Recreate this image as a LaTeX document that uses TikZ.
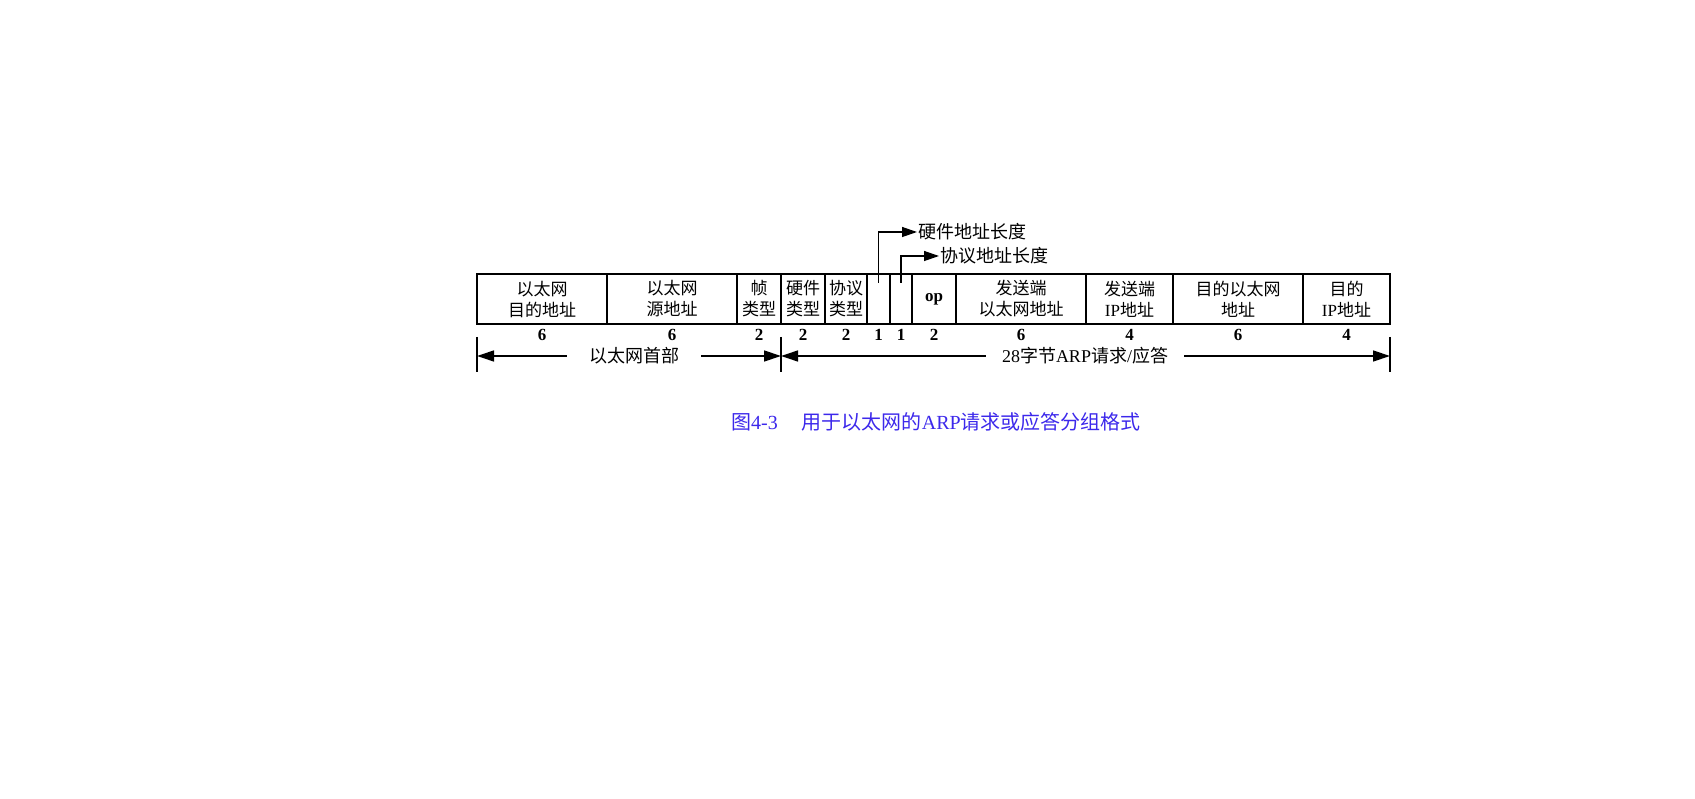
\documentclass[tikz,border=0pt]{standalone}
\usepackage{fontspec}
\setmainfont{Liberation Serif}
\newfontfamily\cjk{Noto Sans CJK SC}
\usetikzlibrary{arrows.meta}
\definecolor{capblue}{RGB}{60,40,235}
\begin{document}
\begin{tikzpicture}[x=1pt, y=-1pt,
        field/.style = {draw, line width=1.4pt, minimum height=50pt, inner sep=0pt, align=center, font=\cjk\fontsize{17}{21}\selectfont},
        num/.style = {font=\bfseries\fontsize{17}{17}\selectfont, inner sep=1pt},
        len/.style = {font=\cjk\fontsize{18}{18}\selectfont, anchor=west, inner sep=1pt},
        span/.style = {font=\fontsize{18}{18}\selectfont, inner ysep=1pt},
        tick/.style = {line width=1.3pt},
        dim/.style = {line width=1.3pt, -{Triangle[length=17pt,width=11pt]}},
        thin tip/.style = {-{Triangle[length=15pt,width=10pt]}}
    ]
    \useasboundingbox (0,0) rectangle (1695,799);
    % fields of the frame, byte count below each
    \foreach \l/\r/\txt/\n [count=\i] in {477/607/{以太网\\目的地址}/6, 607/737/{以太网\\源地址}/6,
        737/781/{帧\\类型}/2, 781/825/{硬件\\类型}/2, 825/867/{协议\\类型}/2, 867/890/{}/1, 890/912/{}/1,
        912/956/{\rmfamily\bfseries op}/2, 956/1086/{发送端\\以太网地址}/6, 1086/1173/{发送端\\{\rmfamily IP}地址}/4,
        1173/1303/{目的以太网\\地址}/6, 1303/1390/{目的\\{\rmfamily IP}地址}/4}
    {
        \node[field, minimum width={(\r-\l)*1pt}] (f\i) at ({(\l+\r)/2},299) {\txt};
        \node[num] (n\i) at ({(\l+\r)/2},335) {\n};
    }
    % length fields
    \node[len] (hwlen) at (917,232) {硬件地址长度};
    \node[len] (prlen) at (939,256) {协议地址长度};
    \coordinate (hw) at (878.5,283);
    \coordinate (pr) at (901,283);
    \draw[dim, thin tip] (hw) |- (hwlen.west);
    \draw[dim, thin tip] (pr) |- (prlen.west);
    % spans
    \coordinate (s0) at (477,356);
    \coordinate (s1) at (781,356);
    \coordinate (s2) at (1390,356);
    \foreach \s in {s0,s1,s2}
        \draw[tick] ([yshift=19pt]\s) -- ([yshift=-16pt]\s);
    \node[span, inner xsep=22pt] (hdr) at (634,356) {\cjk 以太网首部};
    \node[span, inner xsep=16pt] (arp) at (1085,356) {28{\cjk 字节}ARP{\cjk 请求}/{\cjk 应答}};
    \draw[dim] (hdr) -- (s0);
    \draw[dim] (hdr) -- (s1);
    \draw[dim] (arp) -- (s1);
    \draw[dim] (arp) -- (s2);
    % caption
    \node[font=\fontsize{20}{20}\selectfont, text=capblue] (cap) at (936,422)
        {{\cjk 图}4-3\hspace{1.2em}{\cjk 用于以太网的}ARP{\cjk 请求或应答分组格式}};
\end{tikzpicture}
\end{document}
